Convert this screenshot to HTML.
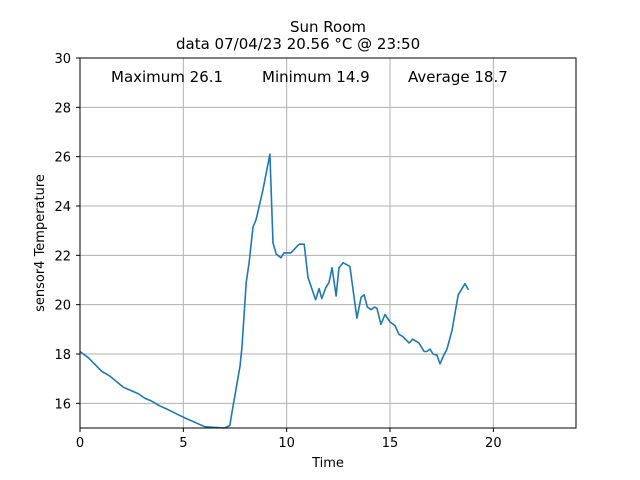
<!DOCTYPE html>
<html><head><meta charset="utf-8"><style>
body{margin:0;background:#fff}
svg{display:block;font-family:"DejaVu Sans","Liberation Sans",sans-serif}
</style></head><body>
<svg id="chart" width="640" height="480" viewBox="0 0 640 480">
<rect width="640" height="480" fill="#fff"/>
<text x="328" y="32" font-size="15" text-anchor="middle">Sun Room</text>
<text x="176" y="49" font-size="15">data  07/04/23  20.56 °C       @ 23:50</text>
<g id="grid"></g>
<g id="ticks"></g>
<path id="line" fill="none" stroke="#1f77b4" stroke-width="1.6" stroke-linejoin="round"/>
<rect x="80" y="58" width="496" height="370" fill="none" stroke="#000" stroke-width="1"/>
<text x="111" y="82" font-size="15">Maximum 26.1</text>
<text x="262" y="82" font-size="15">Minimum 14.9</text>
<text x="408" y="82" font-size="15">Average 18.7</text>
<text x="328" y="467" font-size="13" text-anchor="middle">Time</text>
<text x="0" y="0" font-size="13" text-anchor="middle" transform="translate(44,243) rotate(-90)">sensor4  Temperature</text>
</svg>
<script>
const times=[0,0.4,0.7,1.05,1.45,2.1,2.8,3.15,3.45,3.85,4.25,4.6,5.1,6.05,7.0,7.25,7.4,7.74,7.84,8.04,8.18,8.37,8.52,8.85,9.19,9.34,9.5,9.72,9.87,10.2,10.6,10.85,11.03,11.4,11.57,11.7,11.9,12.05,12.2,12.39,12.53,12.73,13.06,13.4,13.6,13.75,13.9,14.08,14.27,14.37,14.56,14.76,15.0,15.24,15.43,15.63,15.92,16.1,16.4,16.65,16.78,16.94,17.08,17.27,17.42,17.6,17.76,18.0,18.3,18.63,18.8];
const temps=[18.1,17.85,17.6,17.3,17.1,16.65,16.4,16.2,16.1,15.9,15.75,15.6,15.4,15.05,14.95,15.1,15.85,17.5,18.3,20.9,21.7,23.15,23.45,24.65,26.1,22.5,22.05,21.9,22.1,22.1,22.45,22.45,21.1,20.2,20.65,20.25,20.7,20.9,21.5,20.35,21.5,21.7,21.55,19.45,20.3,20.4,19.9,19.8,19.9,19.85,19.2,19.6,19.3,19.15,18.8,18.7,18.45,18.6,18.45,18.1,18.1,18.2,18.0,17.95,17.6,17.95,18.2,18.95,20.4,20.85,20.6];
const xTicks=[0,5,10,15,20];
const yTicks=[16,18,20,22,24,26,28,30];
const X=t=>80+t*(496/24);
const Y=v=>428-(v-15)*(370/15);
const NS="http://www.w3.org/2000/svg";
const grid=document.getElementById('grid'),ticks=document.getElementById('ticks');
function mk(tag,attrs,parent){const e=document.createElementNS(NS,tag);for(const k in attrs)e.setAttribute(k,attrs[k]);parent.appendChild(e);return e;}
xTicks.forEach(t=>{
 const g=mk('line',{x1:X(t),x2:X(t),y1:58,y2:428,stroke:'#b0b0b0','stroke-width':1},grid);
 
 
 mk('line',{x1:X(t),x2:X(t),y1:428,y2:432,stroke:'#000'},ticks);
 const l=mk('text',{x:X(t),y:447,'font-size':13,'text-anchor':'middle'},ticks);
 l.textContent=t;
 
 
});
yTicks.forEach(v=>{
 const g=mk('line',{x1:80,x2:576,y1:Y(v),y2:Y(v),stroke:'#b0b0b0','stroke-width':1},grid);
 
 
 mk('line',{x1:76,x2:80,y1:Y(v),y2:Y(v),stroke:'#000'},ticks);
 const l=mk('text',{x:71,y:Y(v)+5,'font-size':13,'text-anchor':'end'},ticks);
 l.textContent=v;
 
 
});
const pts=times.map((t,i)=>[X(t),Math.min(428,Y(temps[i]))]);
document.getElementById('line').setAttribute('d','M'+pts.map(p=>p[0].toFixed(1)+','+p[1].toFixed(1)).join(' L'));
</script>
</body></html>
